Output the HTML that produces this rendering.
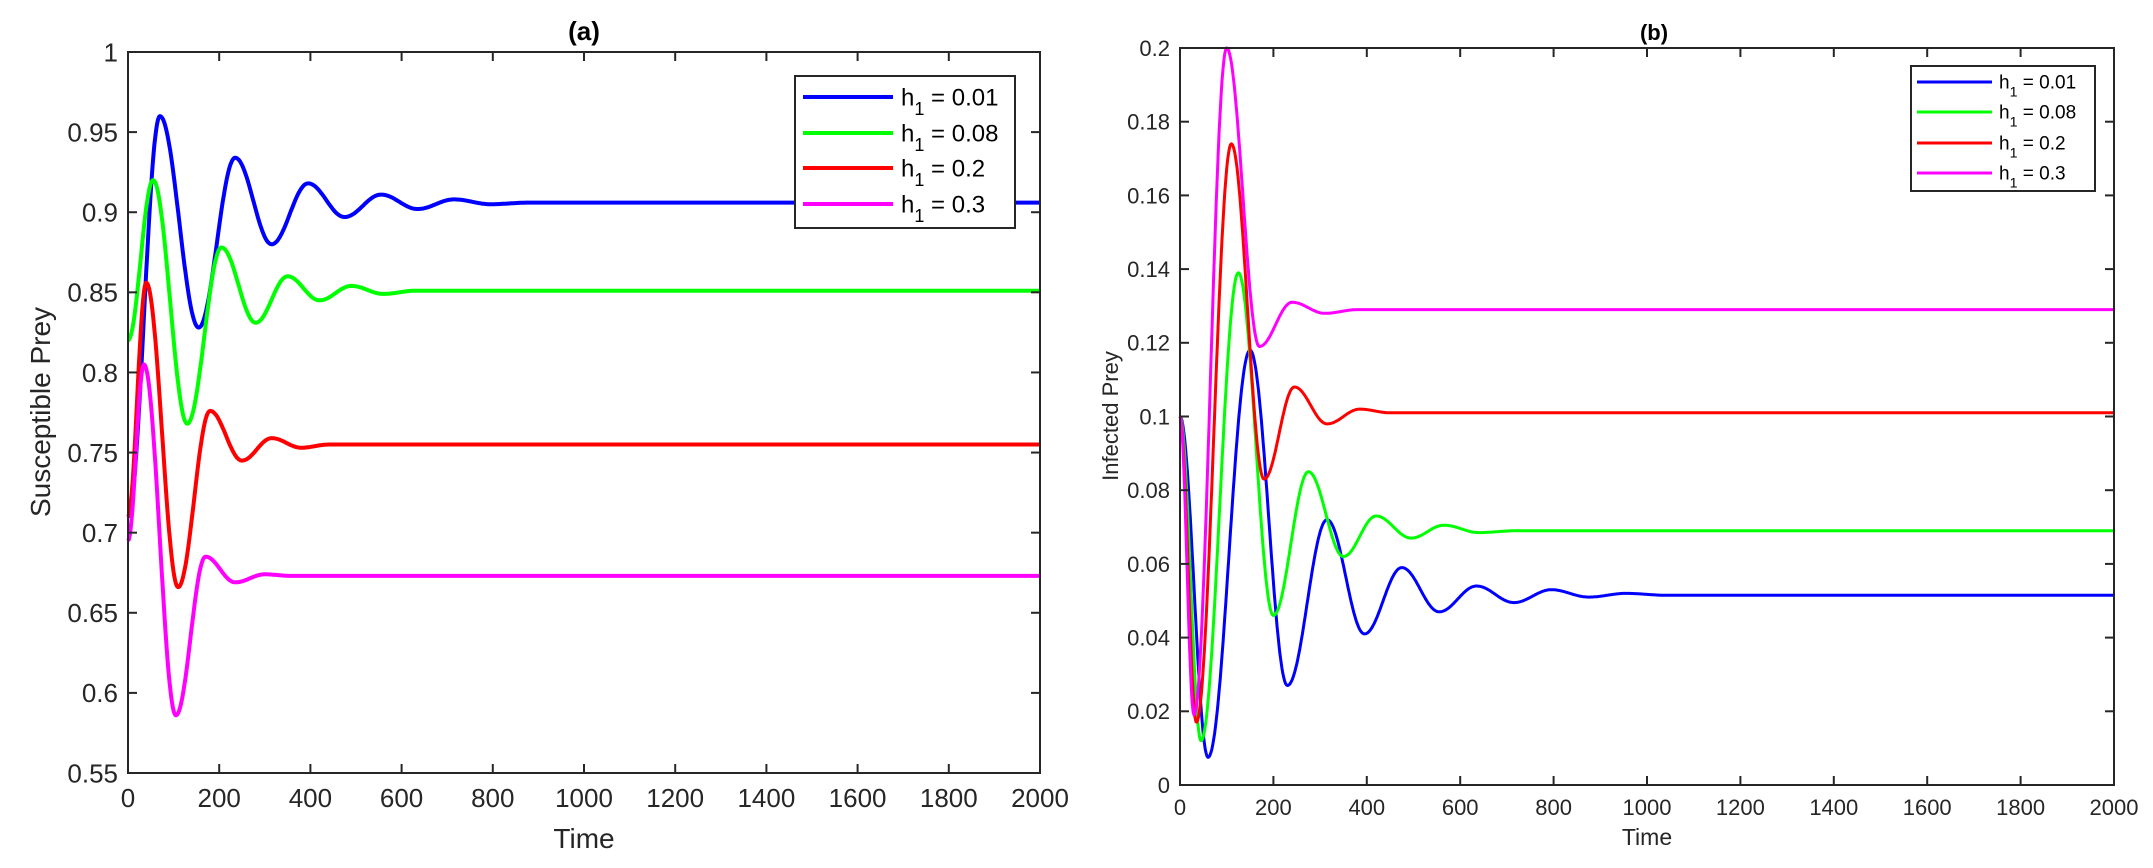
<!DOCTYPE html>
<html><head><meta charset="utf-8">
<style>html,body{margin:0;padding:0;background:#fff;}svg{display:block;}</style>
</head><body>
<svg id="s" width="2153" height="868" xmlns="http://www.w3.org/2000/svg" font-family="Liberation Sans, sans-serif"></svg>
<script>
const S=document.getElementById('s');let h='';
function interp(kp,t){
  if(t>=kp[kp.length-1][0])return kp[kp.length-1][1];
  for(let i=0;i<kp.length-1;i++){const a=kp[i],b=kp[i+1];if(t>=a[0]&&t<=b[0]){const u=(t-a[0])/(b[0]-a[0]);const w=(1-Math.cos(Math.PI*u))/2;return a[1]+(b[1]-a[1])*w;}}
}
function plot(ax,series,yt,ydec,xfs,yfs,lw){
  const {x0,x1,y0,y1,vmin,vmax}=ax;
  const X=t=>x0+t/2000*(x1-x0), Y=v=>y1-(v-vmin)/(vmax-vmin)*(y1-y0);
  for(const s of series){let d='';for(let t=0;t<=2000;t+=2){d+=(t?'L':'M')+X(t).toFixed(1)+' '+Y(interp(s.k,t)).toFixed(1);}
    h+=`<path d="${d}" fill="none" stroke="${s.c}" stroke-width="${lw}" stroke-linejoin="round"/>`;}
  h+=`<rect x="${x0}" y="${y0}" width="${x1-x0}" height="${y1-y0}" fill="none" stroke="#262626" stroke-width="2"/>`;
  for(let t=0;t<=2000;t+=200){const x=X(t);h+=`<line x1="${x}" y1="${y1}" x2="${x}" y2="${y1-9}" stroke="#262626" stroke-width="2"/><line x1="${x}" y1="${y0}" x2="${x}" y2="${y0+9}" stroke="#262626" stroke-width="2"/>`;
    h+=`<text x="${x}" y="${y1+xfs+8}" font-size="${xfs}" fill="#262626" text-anchor="middle">${t}</text>`;}
  for(const v of yt){const y=Y(v);h+=`<line x1="${x0}" y1="${y}" x2="${x0+9}" y2="${y}" stroke="#262626" stroke-width="2"/><line x1="${x1}" y1="${y}" x2="${x1-9}" y2="${y}" stroke="#262626" stroke-width="2"/>`;
    h+=`<text x="${x0-10}" y="${y+yfs*0.36}" font-size="${yfs}" fill="#262626" text-anchor="end">${+v.toFixed(ydec)}</text>`;}
}
const C=['#0000ff','#00ff00','#ff0000','#ff00ff'];
let yl=[];for(let v=0.55;v<=1.0001;v+=0.05)yl.push(Math.round(v*100)/100);
plot({x0:128,x1:1040,y0:52,y1:773,vmin:0.55,vmax:1},[
 {c:C[0],k:[[0,0.71],[70,0.96],[155,0.828],[235,0.934],[315,0.88],[395,0.918],[475,0.897],[555,0.911],[635,0.902],[715,0.908],[795,0.905],[880,0.906]]},
 {c:C[1],k:[[0,0.82],[55,0.92],[130,0.768],[205,0.878],[280,0.831],[350,0.86],[420,0.845],[490,0.854],[560,0.849],[630,0.851]]},
 {c:C[2],k:[[0,0.71],[40,0.856],[110,0.666],[180,0.776],[250,0.745],[315,0.759],[380,0.753],[440,0.755]]},
 {c:C[3],k:[[0,0.695],[35,0.805],[105,0.586],[170,0.685],[235,0.669],[300,0.674],[360,0.673]]}
],yl,2,26,26,4);
let yr=[];for(let i=0;i<=10;i++)yr.push(i*0.02);
plot({x0:1180,x1:2114,y0:48,y1:785,vmin:0,vmax:0.2},[
 {c:C[0],k:[[0,0.1],[60,0.0075],[150,0.118],[230,0.027],[315,0.072],[395,0.041],[475,0.059],[555,0.047],[635,0.054],[715,0.0495],[795,0.053],[875,0.051],[955,0.052],[1040,0.0515]]},
 {c:C[1],k:[[0,0.1],[45,0.012],[125,0.139],[200,0.046],[275,0.085],[350,0.062],[420,0.073],[495,0.067],[565,0.0705],[640,0.0685],[720,0.069]]},
 {c:C[2],k:[[0,0.1],[35,0.017],[110,0.174],[180,0.083],[245,0.108],[315,0.098],[385,0.102],[450,0.101]]},
 {c:C[3],k:[[0,0.1],[30,0.019],[100,0.2],[170,0.119],[240,0.131],[310,0.128],[380,0.129]]}
],yr,2,22,22,3);
// labels
h+=`<text x="584" y="40" font-size="26" font-weight="bold" text-anchor="middle" fill="#000">(a)</text>`;
h+=`<text x="1654" y="40" font-size="22" font-weight="bold" text-anchor="middle" fill="#000">(b)</text>`;
h+=`<text x="584" y="848" font-size="28" text-anchor="middle" fill="#262626">Time</text>`;
h+=`<text x="1647" y="845" font-size="23" text-anchor="middle" fill="#262626">Time</text>`;
h+=`<text transform="translate(50,412) rotate(-90)" font-size="28" text-anchor="middle" fill="#262626">Susceptible Prey</text>`;
h+=`<text transform="translate(1118,416) rotate(-90)" font-size="22" text-anchor="middle" fill="#262626">Infected Prey</text>`;
// legends
function legend(x,y,w,hh,rows,lx1,lx2,tx,fs,lw){
  h+=`<rect x="${x}" y="${y}" width="${w}" height="${hh}" fill="#fff" stroke="#262626" stroke-width="2"/>`;
  const L=['0.01','0.08','0.2','0.3'];
  rows.forEach((ry,i)=>{h+=`<line x1="${lx1}" y1="${ry}" x2="${lx2}" y2="${ry}" stroke="${C[i]}" stroke-width="${lw}"/>`;
   h+=`<text x="${tx}" y="${ry+fs*0.35}" font-size="${fs}" fill="#000">h<tspan dy="${fs*0.4}" font-size="${fs*0.75}">1</tspan><tspan dy="${-fs*0.4}"> = ${L[i]}</tspan></text>`;});
}
legend(795,76,220,152,[97,133,168,204],803,893,901,24,4);
legend(1911,66,184,125,[82,112,143,173],1917,1992,1999,19,3);
S.innerHTML=h;
</script>
</body></html>
